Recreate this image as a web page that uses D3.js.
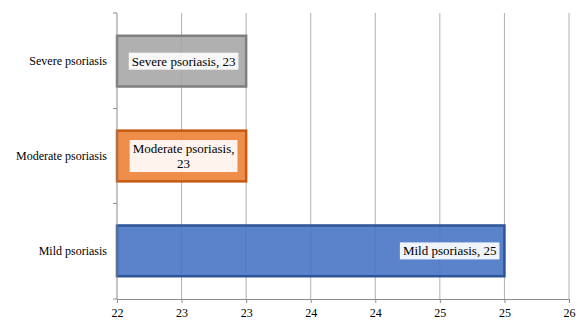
<!DOCTYPE html>
<html>
<head>
<meta charset="utf-8">
<script src="https://cdn.jsdelivr.net/npm/d3@7"></script>
<style>
  html, body { margin: 0; padding: 0; background: #fff; }
  svg { display: block; }
  svg text { font-family: "Liberation Serif", "Times New Roman", Times, serif; }
</style>
</head>
<body>
<svg id="chart" width="578" height="322"></svg>
<script>
// Psoriasis severity values
const categories = ["Severe psoriasis", "Moderate psoriasis", "Mild psoriasis"];
const values = [23, 23, 25];
const labelLines = [["Severe psoriasis, 23"], ["Moderate psoriasis,", "23"], ["Mild psoriasis, 25"]];
const labelPlacement = ["center", "center", "end"];
const fills = ["#a5a5a5", "#ed7d31", "#4472c4"];
const strokes = ["#7f7f7f", "#c55a11", "#2f5597"];
const tickValues = [22, 22.5, 23, 23.5, 24, 24.5, 25, 25.5];
const tickLabels = ["22", "23", "23", "24", "24", "25", "25", "26"];

(function () {
const svg = d3.select("#chart");
const plotLeft = 117, plotRight = 569, plotTop = 13, plotBottom = 299;

const x = d3.scaleLinear().domain([22, 25.5]).range([plotLeft, plotRight]);
const y = d3.scaleBand().domain(categories).range([plotTop, plotBottom])
  .paddingInner(0.465).paddingOuter(0.24);

// vertical gridlines
svg.append("g").selectAll("line").data(tickValues.slice(1)).join("line")
  .attr("x1", d => x(d)).attr("x2", d => x(d))
  .attr("y1", plotTop).attr("y2", plotBottom)
  .attr("stroke", "#b0b0b0").attr("stroke-width", 1);

// bars
const rows = categories.map((c, i) => ({ c, v: values[i], i }));
svg.append("g").selectAll("rect").data(rows).join("rect")
  .attr("x", x(22))
  .attr("y", d => y(d.c))
  .attr("width", d => x(d.v) - x(22))
  .attr("height", y.bandwidth())
  .attr("fill", d => fills[d.i])
  .attr("fill-opacity", 0.88)
  .attr("stroke", d => strokes[d.i])
  .attr("stroke-width", 2.5);

// x axis
const xAxis = d3.axisBottom(x).tickValues(tickValues)
  .tickFormat((d, i) => tickLabels[i]).tickSize(4).tickSizeOuter(0);
const gx = svg.append("g").attr("transform", `translate(0,${plotBottom})`).call(xAxis);
gx.attr("font-family", null);
gx.select(".domain").attr("stroke", "#8c8c8c");
gx.selectAll(".tick line").attr("stroke", "#8c8c8c");
gx.selectAll(".tick text").style("font-size", "12px")
  .attr("fill", "#000").attr("dy", "0.95em");

// y axis line with tick marks at band boundaries
svg.append("line").attr("x1", plotLeft).attr("x2", plotLeft).attr("y1", plotTop).attr("y2", plotBottom)
  .attr("stroke", "#8c8c8c");
const bounds = [plotTop].concat(categories.map(c => y(c) + y.bandwidth() + y.step() * y.paddingInner() / 2));
bounds[bounds.length - 1] = plotBottom;
svg.append("g").selectAll("line").data(bounds).join("line")
  .attr("x1", plotLeft - 4).attr("x2", plotLeft).attr("y1", d => d).attr("y2", d => d)
  .attr("stroke", "#8c8c8c");

// category labels
svg.append("g").selectAll("text").data(categories).join("text")
  .attr("x", plotLeft - 10)
  .attr("y", d => y(d) + y.bandwidth() / 2)
  .attr("dy", "0.35em")
  .attr("text-anchor", "end")
  .style("font-size", "12px").attr("fill", "#000")
  .text(d => d);

// data labels in boxes
const lineH = 15;
rows.forEach(d => {
  const g = svg.append("g");
  const lines = labelLines[d.i];
  const cy = y(d.c) + y.bandwidth() / 2;
  const t = g.append("text")
    .style("font-size", "13px").attr("fill", "#000")
    .attr("text-anchor", "middle");
  lines.forEach((ln, k) => {
    t.append("tspan").attr("x", 0)
      .attr("y", (k - (lines.length - 1) / 2) * lineH)
      .attr("dy", "0.35em").text(ln);
  });
  const bb = t.node().getBBox();
  const padX = 3, padY = 1;
  const w = bb.width + padX * 2, h = bb.height + padY * 2;
  let cx;
  if (labelPlacement[d.i] === "end") {
    cx = x(d.v) - 5 - w / 2;
  } else {
    cx = (x(22) + x(d.v)) / 2 + 2;
  }
  g.attr("transform", `translate(${cx},${cy})`);
  g.insert("rect", "text")
    .attr("x", bb.x - padX).attr("y", bb.y - padY)
    .attr("width", w).attr("height", h)
    .attr("fill", "#fff").attr("fill-opacity", 0.9);
});
})();
</script>
</body>
</html>
